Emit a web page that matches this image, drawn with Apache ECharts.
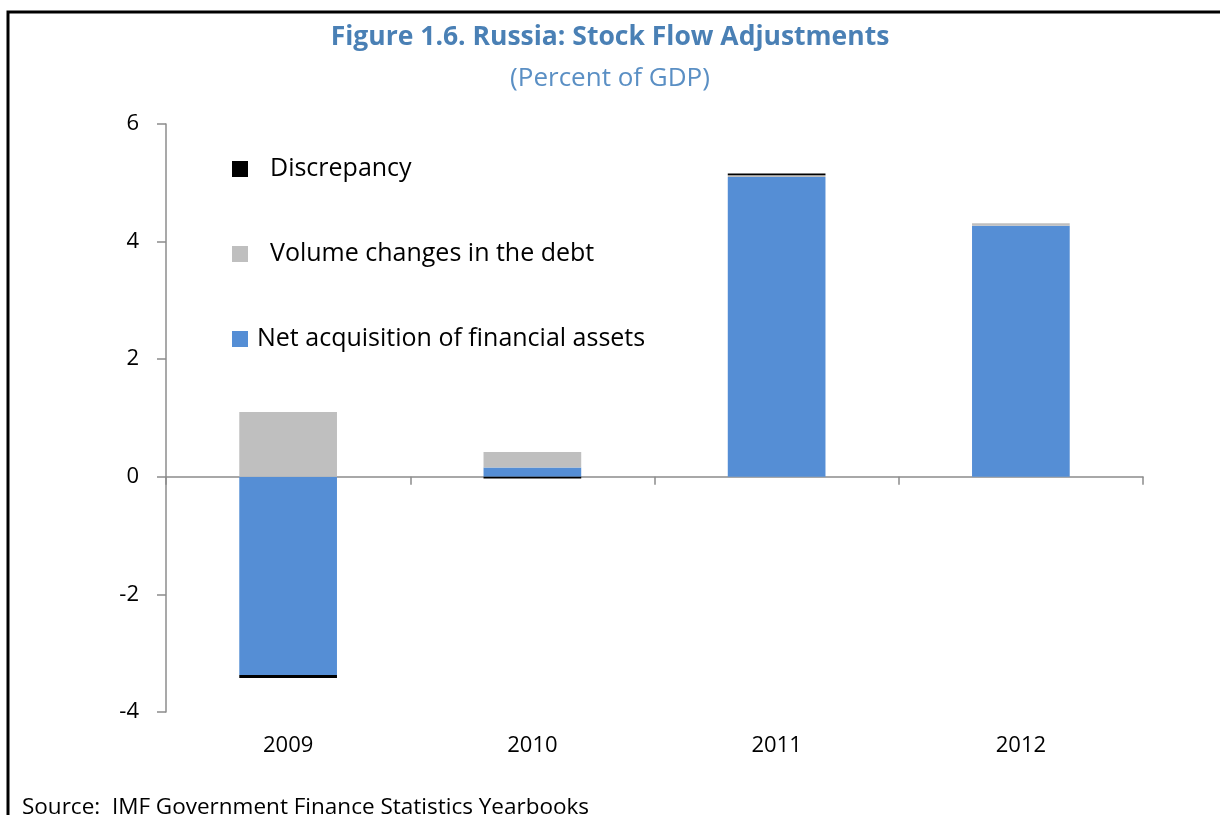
<!DOCTYPE html>
<html>
<head>
<meta charset="utf-8">
<script src="https://cdn.jsdelivr.net/npm/echarts@6/dist/echarts.min.js"></script>
<style>
  html, body { margin: 0; padding: 0; background: #ffffff; }
  #chart { width: 1220px; height: 815px; }
</style>
</head>
<body>
<div id="chart"></div>
<script>
// Years on the category axis
const years = ['2009', '2010', '2011', '2012'];
// Stock flow adjustment components, percent of GDP
const netAcquisition = [-3.37, 0.16, 5.10, 4.27];
const volumeChanges = [1.10, 0.26, 0.03, 0.04];
const discrepancy = [-0.05, -0.03, 0.03, 0.0];
// Value axis range and step
const yMin = -4, yMax = 6, yStep = 2;

const FONT = 'Open Sans';
const axisGrey = '#8c8c8c';
const titleBlue = '#4a80b5';

const chart = echarts.init(document.getElementById('chart'), null, { renderer: 'canvas' });

function legendAt(name, top, gap) {
  return {
    data: [{ name: name, icon: 'rect' }],
    left: 232,
    top: top,
    padding: 0,
    itemWidth: 16,
    itemHeight: 16,
    selectedMode: false,
    textStyle: { fontFamily: FONT, fontSize: 25, color: '#000', padding: [0, 0, 0, gap] }
  };
}

const option = {
  backgroundColor: '#ffffff',
  animation: false,
  title: [
    {
      text: 'Figure 1.6. Russia: Stock Flow Adjustments',
      left: 'center',
      top: 19,
      textStyle: { fontFamily: FONT, fontSize: 26.5, fontWeight: 'bold', color: titleBlue }
    },
    {
      text: '(Percent of GDP)',
      left: 'center',
      top: 61,
      textStyle: { fontFamily: FONT, fontSize: 26, fontWeight: 'normal', color: '#5a8fc4' }
    },
    {
      text: 'Source:  IMF Government Finance Statistics Yearbooks',
      left: 17,
      top: 791,
      textStyle: { fontFamily: FONT, fontSize: 22.5, fontWeight: 'normal', color: '#000' }
    }
  ],
  legend: [
    legendAt('Discrepancy', 156.5, 17),
    legendAt('Volume changes in the debt', 241.5, 17),
    legendAt('Net acquisition of financial assets', 326.5, 4)
  ],
  grid: { left: 166, right: 77, top: 124, bottom: 103, containLabel: false },
  xAxis: [
    {
      type: 'category',
      data: years,
      boundaryGap: true,
      axisLine: { show: false, onZero: false },
      axisTick: { show: false },
      axisLabel: { margin: 23, fontFamily: FONT, fontSize: 22, color: '#000' }
    },
    {
      type: 'category',
      data: years,
      position: 'bottom',
      boundaryGap: true,
      axisLine: { show: true, onZero: true, lineStyle: { color: axisGrey, width: 1.5 } },
      axisTick: { show: true, inside: false, length: 8, lineStyle: { color: axisGrey, width: 1.5 } },
      axisLabel: { show: false }
    }
  ],
  yAxis: {
    type: 'value',
    min: yMin,
    max: yMax,
    interval: yStep,
    splitLine: { show: false },
    axisLine: { show: true, lineStyle: { color: axisGrey, width: 1.5 } },
    axisTick: { show: true, inside: false, length: 9, lineStyle: { color: axisGrey, width: 1.5 } },
    axisLabel: { margin: 27, fontFamily: FONT, fontSize: 22, color: '#000' }
  },
  series: [
    {
      name: 'Net acquisition of financial assets',
      type: 'bar',
      stack: 'sfa',
      barWidth: '40%',
      data: netAcquisition,
      itemStyle: { color: '#558ed5' }
    },
    {
      name: 'Volume changes in the debt',
      type: 'bar',
      stack: 'sfa',
      data: volumeChanges,
      itemStyle: { color: '#bfbfbf' }
    },
    {
      name: 'Discrepancy',
      type: 'bar',
      stack: 'sfa',
      data: discrepancy,
      itemStyle: { color: '#000000' }
    }
  ],
  graphic: [
    {
      type: 'rect',
      shape: { x: 8, y: 12, width: 1300, height: 900 },
      style: { fill: 'none', stroke: '#000', lineWidth: 3 },
      silent: true,
      z: 100
    }
  ]
};

chart.setOption(option);
</script>
</body>
</html>
